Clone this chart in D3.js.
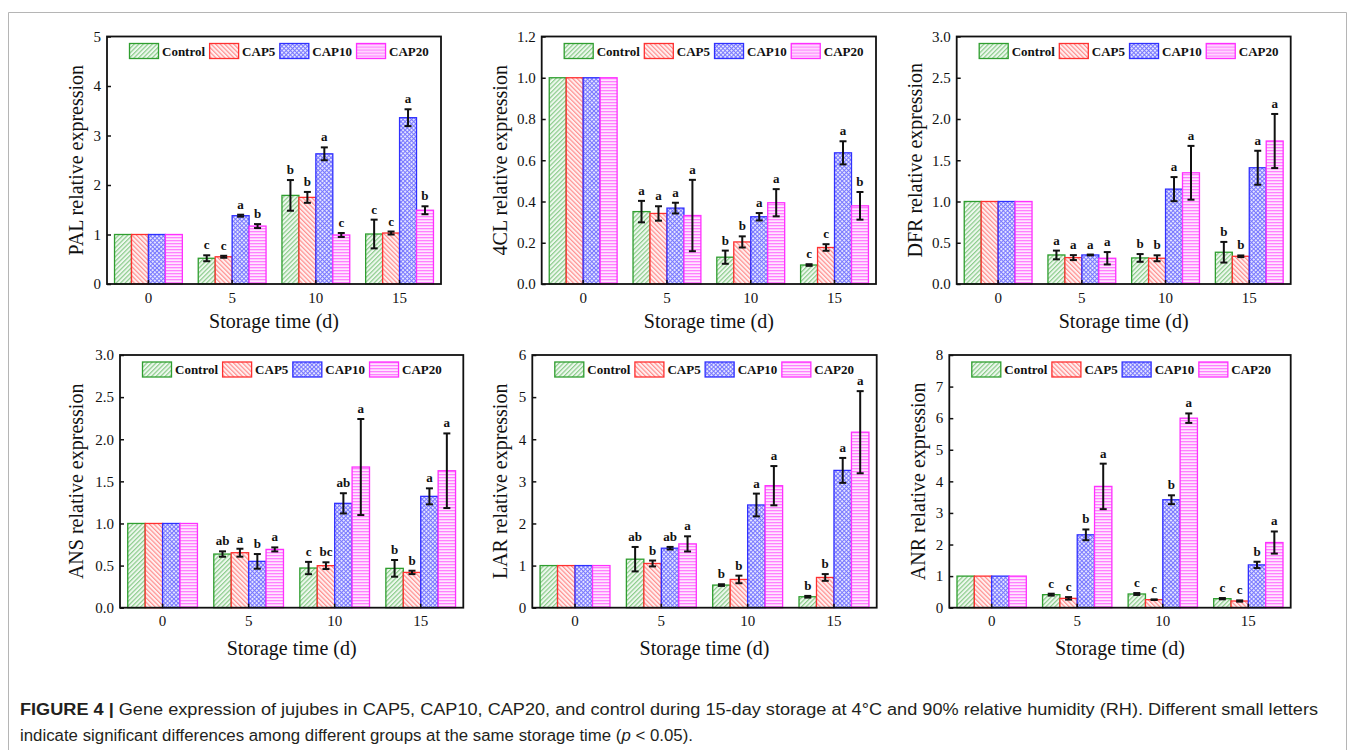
<!DOCTYPE html>
<html>
<head>
<meta charset="utf-8">
<script src="https://cdn.jsdelivr.net/npm/d3@7"></script>
<style>
  body { margin: 0; background: #fff; }
  svg { display: block; }
</style>
</head>
<body>
<script>
// storage days and treatment groups
const days = ["0", "5", "10", "15"];
const groups = ["Control", "CAP5", "CAP10", "CAP20"];

// rows: Control, CAP5, CAP10, CAP20 ; columns: day 0, 5, 10, 15
const palMean = [[1, 0.52, 1.79, 1.01], [1, 0.55, 1.75, 1.03], [1, 1.38, 2.63, 3.36], [1, 1.17, 0.99, 1.49]];
const palErr  = [[0, 0.06, 0.31, 0.29], [0, 0.02, 0.11, 0.03], [0, 0.02, 0.13, 0.17], [0, 0.04, 0.04, 0.08]];
const palSig  = [["", "c", "b", "c"], ["", "c", "b", "c"], ["", "a", "a", "a"], ["", "b", "c", "b"]];

const clMean = [[1, 0.351, 0.13, 0.092], [1, 0.342, 0.204, 0.177], [1, 0.368, 0.326, 0.636], [1, 0.332, 0.394, 0.379]];
const clErr  = [[0, 0.052, 0.032, 0.004], [0, 0.035, 0.027, 0.016], [0, 0.026, 0.018, 0.056], [0, 0.173, 0.066, 0.067]];
const clSig  = [["", "a", "b", "c"], ["", "a", "b", "c"], ["", "a", "a", "a"], ["", "a", "a", "b"]];

const dfrMean = [[1, 0.352, 0.316, 0.385], [1, 0.32, 0.312, 0.336], [1, 0.352, 1.15, 1.409], [1, 0.312, 1.348, 1.733]];
const dfrErr  = [[0, 0.053, 0.047, 0.125], [0, 0.03, 0.036, 0.01], [0, 0.005, 0.146, 0.206], [0, 0.075, 0.326, 0.328]];
const dfrSig  = [["", "a", "b", "b"], ["", "a", "b", "b"], ["", "a", "a", "a"], ["", "a", "a", "a"]];

const ansMean = [[1, 0.637, 0.471, 0.467], [1, 0.653, 0.499, 0.419], [1, 0.55, 1.239, 1.322], [1, 0.692, 1.67, 1.626]];
const ansErr  = [[0, 0.032, 0.073, 0.099], [0, 0.047, 0.04, 0.02], [0, 0.087, 0.12, 0.095], [0, 0.024, 0.57, 0.443]];
const ansSig  = [["", "ab", "c", "b"], ["", "a", "bc", "b"], ["", "b", "ab", "a"], ["", "a", "a", "a"]];

const larMean = [[1, 1.152, 0.537, 0.26], [1, 1.05, 0.671, 0.718], [1, 1.413, 2.439, 3.26], [1, 1.515, 2.897, 4.167]];
const larErr  = [[0, 0.29, 0.02, 0.02], [0, 0.07, 0.09, 0.08], [0, 0.03, 0.27, 0.296], [0, 0.18, 0.466, 0.975]];
const larSig  = [["", "ab", "b", "b"], ["", "b", "b", "b"], ["", "ab", "a", "a"], ["", "a", "a", "a"]];

const anrMean = [[1, 0.413, 0.434, 0.286], [1, 0.296, 0.254, 0.212], [1, 2.307, 3.418, 1.355], [1, 3.84, 6.0, 2.063]];
const anrErr  = [[0, 0.03, 0.03, 0.02], [0, 0.04, 0.01, 0.02], [0, 0.17, 0.14, 0.1], [0, 0.72, 0.15, 0.35]];
const anrSig  = [["", "c", "c", "c"], ["", "c", "c", "c"], ["", "b", "b", "b"], ["", "a", "a", "a"]];

// y tick values
const ticks5  = [0, 1, 2, 3, 4, 5];
const ticks12 = [0, 0.2, 0.4, 0.6, 0.8, 1.0, 1.2];
const ticks3  = [0, 0.5, 1.0, 1.5, 2.0, 2.5, 3.0];
const ticks6  = [0, 1, 2, 3, 4, 5, 6];
const ticks8  = [0, 1, 2, 3, 4, 5, 6, 7, 8];

const colors = ["#2f9e2f", "#ff3030", "#3030ff", "#ff30ff"];
const serif = "'Liberation Serif', 'Times New Roman', serif";

const panels = [
    { name: "PAL", mean: palMean, err: palErr, sig: palSig, ticks: ticks5,  fmt: d3.format("d"),   x0: 107,   x1: 441,   y0: 36.5, y1: 284,   labelX: 83,  titleDy: 44 },
    { name: "4CL", mean: clMean,  err: clErr,  sig: clSig,  ticks: ticks12, fmt: d3.format(".1f"), x0: 541.7, x1: 876,   y0: 36.5, y1: 284,   labelX: 507, titleDy: 44 },
    { name: "DFR", mean: dfrMean, err: dfrErr, sig: dfrSig, ticks: ticks3,  fmt: d3.format(".1f"), x0: 956.7, x1: 1290.7, y0: 36.5, y1: 284,  labelX: 922, titleDy: 44 },
    { name: "ANS", mean: ansMean, err: ansErr, sig: ansSig, ticks: ticks3,  fmt: d3.format(".1f"), x0: 120,   x1: 463.3, y0: 355,  y1: 607.7, labelX: 83,  titleDy: 47 },
    { name: "LAR", mean: larMean, err: larErr, sig: larSig, ticks: ticks6,  fmt: d3.format("d"),   x0: 532.3, x1: 876.7, y0: 355,  y1: 607.7, labelX: 507, titleDy: 47 },
    { name: "ANR", mean: anrMean, err: anrErr, sig: anrSig, ticks: ticks8,  fmt: d3.format("d"),   x0: 949.3, x1: 1290.7, y0: 355, y1: 607.7, labelX: 925, titleDy: 47 }
];

const svg = d3.select("body").append("svg")
    .attr("width", 1355)
    .attr("height", 750);

// hatch patterns
const defs = svg.append("defs");

function linePattern(id, bg, color, angle, gap, lw) {
    const pat = defs.append("pattern")
        .attr("id", id)
        .attr("patternUnits", "userSpaceOnUse")
        .attr("width", gap).attr("height", gap)
        .attr("patternTransform", `rotate(${angle})`);
    pat.append("rect").attr("width", gap).attr("height", gap).attr("fill", bg);
    pat.append("rect")
        .attr("x", 0).attr("y", 0).attr("width", lw).attr("height", gap)
        .attr("fill", color);
}
linePattern("pat0", "#eef8ee", "#8ccc8c", 45, 3.2, 1.2);
linePattern("pat1", "#fff0f0", "#ff9090", -45, 3.2, 1.2);
linePattern("pat3", "#ffe6ff", "#ff80ff", 90, 3, 1.3);

const grid = defs.append("pattern")
    .attr("id", "pat2")
    .attr("patternUnits", "userSpaceOnUse")
    .attr("width", 3).attr("height", 3)
    .attr("patternTransform", "rotate(45)");
grid.append("rect").attr("width", 3).attr("height", 3).attr("fill", "#e4e4ff");
grid.append("rect").attr("width", 3).attr("height", 1).attr("fill", "#7878ff");
grid.append("rect").attr("width", 1).attr("height", 3).attr("fill", "#7878ff");

panels.forEach(function(p) {
    const g = svg.append("g");

    const x = d3.scaleBand()
        .domain(days)
        .range([p.x0, p.x1])
        .paddingInner(0.19)
        .paddingOuter(0.09);
    const xs = d3.scaleBand()
        .domain(groups)
        .range([0, x.bandwidth()]);
    const y = d3.scaleLinear()
        .domain([0, p.ticks[p.ticks.length - 1]])
        .range([p.y1, p.y0]);

    groups.forEach(function(grp, gi) {
        const rows = days.map((d, di) => ({ day: d, v: p.mean[gi][di], e: p.err[gi][di], s: p.sig[gi][di] }));
        const cx = d => x(d.day) + xs(grp) + xs.bandwidth() / 2;

        g.selectAll(null)
            .data(rows)
            .enter()
            .append("rect")
            .attr("x", d => x(d.day) + xs(grp))
            .attr("y", d => y(d.v))
            .attr("width", xs.bandwidth())
            .attr("height", d => y(0) - y(d.v))
            .attr("fill", `url(#pat${gi})`)
            .attr("stroke", colors[gi])
            .attr("stroke-width", 1.3);

        const withErr = rows.filter(d => d.e > 0);
        const eg = g.append("g").attr("stroke", "#111").attr("stroke-width", 2);
        eg.selectAll(null).data(withErr).enter().append("line")
            .attr("x1", cx).attr("x2", cx)
            .attr("y1", d => y(d.v + d.e)).attr("y2", d => y(d.v - d.e));
        eg.selectAll(null).data(withErr).enter().append("line")
            .attr("x1", d => cx(d) - 3.5).attr("x2", d => cx(d) + 3.5)
            .attr("y1", d => y(d.v + d.e)).attr("y2", d => y(d.v + d.e));
        eg.selectAll(null).data(withErr).enter().append("line")
            .attr("x1", d => cx(d) - 3.5).attr("x2", d => cx(d) + 3.5)
            .attr("y1", d => y(d.v - d.e)).attr("y2", d => y(d.v - d.e));

        g.selectAll(null)
            .data(rows.filter(d => d.s))
            .enter()
            .append("text")
            .attr("x", cx)
            .attr("y", d => y(d.v + d.e) - 6)
            .attr("text-anchor", "middle")
            .attr("font-family", serif)
            .attr("font-weight", "bold")
            .attr("font-size", "13px")
            .attr("fill", "#111")
            .text(d => d.s);
    });

    // plot frame
    g.append("rect")
        .attr("x", p.x0).attr("y", p.y0)
        .attr("width", p.x1 - p.x0).attr("height", p.y1 - p.y0)
        .attr("fill", "none")
        .attr("stroke", "#111")
        .attr("stroke-width", 1.8);

    const leftAxis = d3.axisLeft(y)
        .tickValues(p.ticks)
        .tickFormat(p.fmt)
        .tickSizeInner(-4)
        .tickSizeOuter(0)
        .tickPadding(6);
    const yAxis = g.append("g")
        .attr("transform", `translate(${p.x0}, 0)`)
        .call(leftAxis);

    const bottomAxis = d3.axisBottom(x)
        .tickSizeInner(-4)
        .tickSizeOuter(0)
        .tickPadding(8);
    const xAxis = g.append("g")
        .attr("transform", `translate(0, ${p.y1})`)
        .call(bottomAxis);

    [yAxis, xAxis].forEach(function(a) {
        a.attr("font-family", serif);
        a.select(".domain").remove();
        a.selectAll(".tick line").attr("stroke", "#111").attr("stroke-width", 1.5);
        a.selectAll(".tick text")
            .attr("font-family", serif)
            .attr("font-size", "15px")
            .attr("fill", "#111");
    });

    // legend
    let lx = p.x0 + 22.5;
    groups.forEach(function(grp, gi) {
        const lg = g.append("g").attr("transform", `translate(${lx}, ${p.y0 + 7})`);
        lg.append("rect")
            .attr("width", 29).attr("height", 15)
            .attr("fill", `url(#pat${gi})`)
            .attr("stroke", colors[gi])
            .attr("stroke-width", 1.3);
        const t = lg.append("text")
            .attr("x", 32.5).attr("y", 12)
            .attr("font-family", serif)
            .attr("font-weight", "bold")
            .attr("font-size", "13px")
            .attr("fill", "#111")
            .text(grp);
        lx += 32.5 + t.node().getComputedTextLength() + 4.5;
    });

    g.append("text")
        .attr("x", (p.x0 + p.x1) / 2)
        .attr("y", p.y1 + p.titleDy)
        .attr("text-anchor", "middle")
        .attr("font-family", serif)
        .attr("font-size", "20px")
        .attr("fill", "#111")
        .text("Storage time (d)");

    g.append("text")
        .attr("transform", `translate(${p.labelX}, ${(p.y0 + p.y1) / 2}) rotate(-90)`)
        .attr("text-anchor", "middle")
        .attr("font-family", serif)
        .attr("font-size", "20px")
        .attr("fill", "#111")
        .text(p.name + " relative expression");
});

// figure border
svg.append("path")
    .attr("d", "M8.5,750 V12.5 H1346.5 V750")
    .attr("fill", "none")
    .attr("stroke", "#b5b5b5")
    .attr("stroke-width", 1);

// caption
const sans = "'Liberation Sans', Arial, sans-serif";
const cap1 = svg.append("text")
    .attr("x", 20).attr("y", 715)
    .attr("font-family", sans)
    .attr("font-size", "16px")
    .attr("fill", "#231f20");
cap1.append("tspan").attr("font-weight", "bold").text("FIGURE 4 | ");
cap1.append("tspan").text("Gene expression of jujubes in CAP5, CAP10, CAP20, and control during 15-day storage at 4°C and 90% relative humidity (RH). Different small letters");

const cap2 = svg.append("text")
    .attr("x", 20).attr("y", 741)
    .attr("font-family", sans)
    .attr("font-size", "16px")
    .attr("fill", "#231f20");
cap2.append("tspan").text("indicate significant differences among different groups at the same storage time (");
cap2.append("tspan").attr("font-style", "italic").text("p");
cap2.append("tspan").text(" < 0.05).");

// squeeze the caption lines to the width they take in the figure
cap1.attr("textLength", 1298).attr("lengthAdjust", "spacingAndGlyphs");
cap2.attr("textLength", 673).attr("lengthAdjust", "spacingAndGlyphs");
</script>
</body>
</html>
